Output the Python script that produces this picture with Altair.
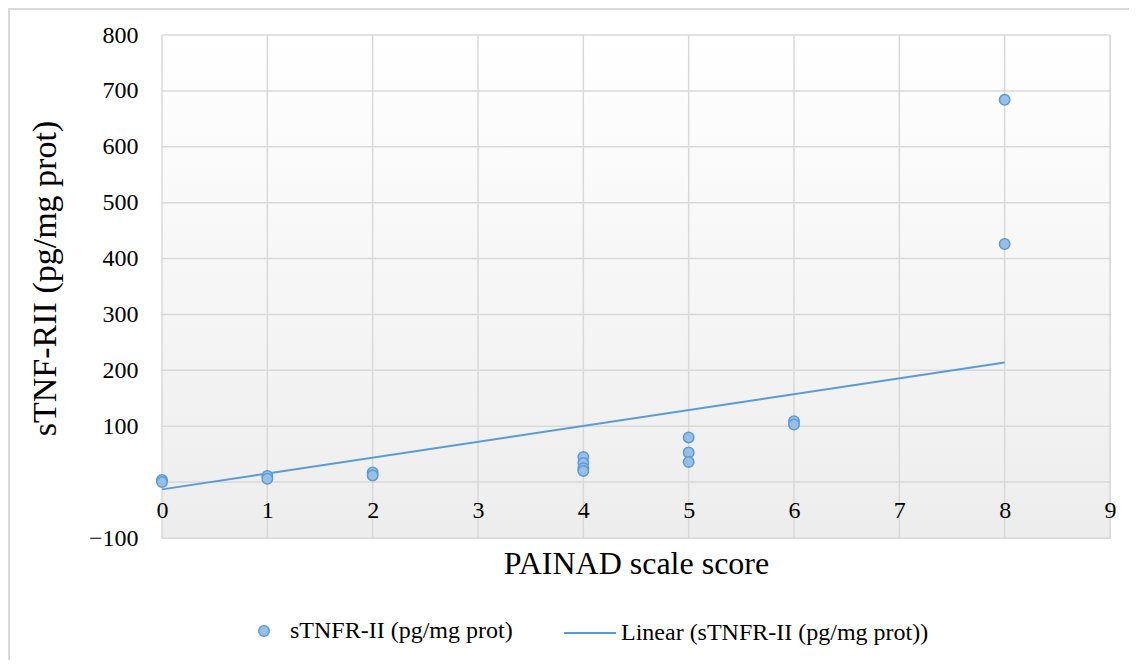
import altair as alt
import pandas as pd

# ---- data ----
x_score = [0, 0, 1, 1, 2, 2, 4, 4, 4, 4, 5, 5, 5, 6, 6, 8, 8]
y_tnf = [4, 0, 11, 6, 17, 12, 45, 34, 25, 20, 80, 53, 36, 109, 103, 684, 426]
trend_x = [0, 8]
trend_y = [-13, 214]
x_ticks = list(range(0, 10))
y_ticks = list(range(-100, 900, 100))
series_points = "sTNFR-II (pg/mg prot)"
series_trend = "Linear (sTNFR-II (pg/mg prot))"
x_title = "PAINAD scale score"
y_title = "sTNF-RII (pg/mg prot)"

FONT = "Liberation Serif"
BLUE = "#5b9bd5"
FILL = "#9abfe6"
GRID = "#d9d9d9"
W, H = 948, 503

pts = pd.DataFrame({"x": x_score, "y": y_tnf, "series": series_points})
trend = pd.DataFrame({"x": trend_x, "y": trend_y, "series": series_trend})

xscale = alt.Scale(domain=[0, 9], nice=False, zero=False)
yscale = alt.Scale(domain=[-100, 800], nice=False, zero=False)

xenc = alt.X(
    "x:Q", scale=xscale,
    axis=alt.Axis(
        values=x_ticks, offset=-56, grid=False, domain=False, ticks=False,
        zindex=1,
        labelFont=FONT, labelFontSize=24, labelColor="black", labelPadding=28,
        labelBaseline="middle", labelFlush=False, labelOverlap=False,
        title=x_title, titleFont=FONT, titleFontSize=32, titleFontWeight="normal",
        titleColor="black", titleX=W / 2, titleY=81, titleBaseline="middle",
        titleAlign="center",
    ),
)
yenc = alt.Y(
    "y:Q", scale=yscale,
    axis=alt.Axis(
        values=y_ticks, grid=False, domain=False, ticks=False,
        labelExpr="datum.value === 0 ? '' : datum.label",
        labelFont=FONT, labelFontSize=24, labelColor="black", labelPadding=24,
        labelFlush=False, labelOverlap=False,
        title=y_title, titleFont=FONT, titleFontSize=34, titleFontWeight="normal",
        titleColor="black", titleX=-117, titleY=243, titleAngle=-90,
        titleBaseline="middle", titleAlign="center",
    ),
)

one = pd.DataFrame({"a": [0]})

border = alt.Chart(one).mark_rect(
    fillOpacity=0, stroke=GRID, strokeWidth=2
).encode(x=alt.value(-153), x2=alt.value(1000), y=alt.value(-26), y2=alt.value(700))

bg = alt.Chart(one).mark_rect(
    color=alt.LinearGradient(
        gradient="linear",
        stops=[alt.GradientStop(color="#ffffff", offset=0),
               alt.GradientStop(color="#ededed", offset=1)],
        x1=0, x2=0, y1=0, y2=1,
    )
).encode(x=alt.value(0), x2=alt.value(W), y=alt.value(0), y2=alt.value(H))

vgrid = alt.Chart(pd.DataFrame({"x": x_ticks})).mark_rule(
    color=GRID, strokeWidth=1.5
).encode(x=xenc, y=alt.value(0), y2=alt.value(H))

hgrid = alt.Chart(pd.DataFrame({"y": y_ticks})).mark_rule(
    color=GRID, strokeWidth=1.5
).encode(y=yenc, x=alt.value(0), x2=alt.value(W))

line = alt.Chart(trend).mark_line(strokeWidth=2).encode(
    x=xenc, y=yenc,
    stroke=alt.Stroke(
        "series:N",
        scale=alt.Scale(domain=[series_trend], range=[BLUE]),
        legend=alt.Legend(
            title=None, orient="none", legendX=401, legendY=571, padding=0,
            symbolType="stroke", symbolSize=2700, symbolStrokeWidth=2,
            labelOffset=4, labelFont=FONT, labelFontSize=24, labelColor="black",
            labelLimit=600,
        ),
    ),
)

points = alt.Chart(pts).mark_circle(
    size=110, opacity=1, stroke=BLUE, strokeWidth=1.5
).encode(
    x=xenc, y=yenc,
    fill=alt.Fill(
        "series:N",
        scale=alt.Scale(domain=[series_points], range=[FILL]),
        legend=alt.Legend(
            title=None, orient="none", legendX=90, legendY=584, padding=0,
            symbolType="circle", symbolSize=110, symbolStrokeColor=BLUE,
            symbolStrokeWidth=1.5, symbolFillColor=FILL,
            labelOffset=14, labelFont=FONT, labelFontSize=24, labelColor="black",
            labelLimit=600,
        ),
    ),
)

chart = alt.layer(border, bg, vgrid, hgrid, line, points).properties(
    width=W, height=H,
    autosize=alt.AutoSizeParams(type="none"),
    padding={"left": 154, "top": 27, "right": 19, "bottom": 122},
).configure_view(strokeWidth=0).configure(
    background="white"
).configure_axis(
    labelFont=FONT, titleFont=FONT
).configure_legend(
    labelFont=FONT
)

chart.save("out.html", embed_options={"renderer": "svg", "actions": False})
